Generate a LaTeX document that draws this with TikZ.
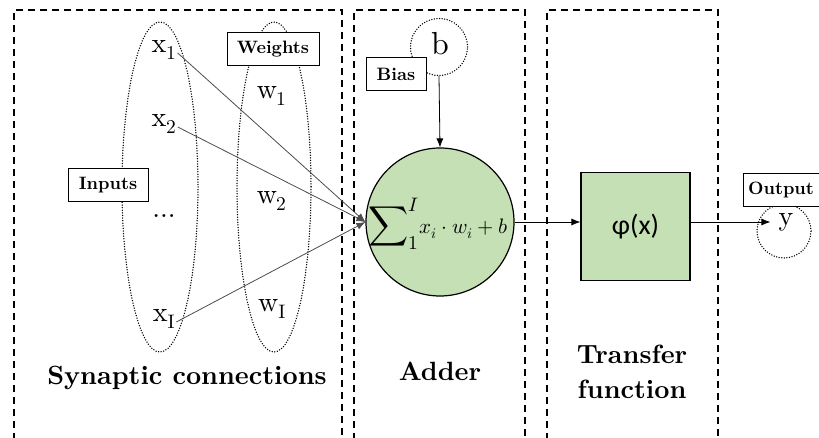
\documentclass[tikz,border=0pt]{standalone}
\usepackage{fontspec}
\usepackage{unicode-math}
\setmainfont{lmroman10-regular.otf}[BoldFont=lmroman10-bold.otf, ItalicFont=lmroman10-italic.otf]
\setmathfont{Latin Modern Math}
\newfontfamily\phifont{Carlito}
\usetikzlibrary{arrows.meta,positioning}
\definecolor{adderGreen}{RGB}{197,224,180}

\begin{document}
\begin{tikzpicture}[x=1bp,y=-1bp,
	block/.style={dash pattern=on 7bp off 5bp, line width=1.2bp},
	dotring/.style={line width=1.5bp, line cap=round, dash pattern=on 0bp off 2.6bp},
	tag/.style={draw, fill=white, line width=0.8bp, minimum height=33bp, inner sep=2bp, font=\fontsize{18}{21}\selectfont\bfseries},
	sym/.style={inner sep=1bp, font=\fontsize{28}{32}\selectfont},
	title/.style={align=center, font=\fontsize{26.5}{35}\selectfont\bfseries},
	link/.style={-{Latex[length=9bp,width=7bp]}, line width=0.8bp},
	]
	\useasboundingbox (0,0) rectangle (819,438);
	
	% three stages, open at the bottom
	\draw[block] (14,440) -- (14,10) -- (342,10) -- (342,440);
	\draw[block] (354,440) -- (354,10) -- (525,10) -- (525,440);
	\draw[block] (547,440) -- (547,10) -- (718,10) -- (718,440);
	
	% inputs and weights
	\draw[dotring] (160,187) ellipse [x radius=38, y radius=165];
	\draw[dotring] (274,187) ellipse [x radius=37, y radius=165];
	
	\node[sym] (x1) at (164,50) {x$_1$};
	\node[sym] (x2) at (164,124) {x$_2$};
	\node[sym] (xdots) at (164,216) {...};
	\node[sym] (xI) at (164,319) {x$_{\mathrm{I}}$};
	
	\node[sym] (w1) at (272,96) {w$_1$};
	\node[sym] (w2) at (272,201) {w$_2$};
	\node[sym] (wI) at (272,309) {w$_{\mathrm{I}}$};
	
	% adder
	\node[circle, draw, fill=adderGreen, line width=1.2bp, minimum size=148bp, inner sep=0pt] (adder) at (440,222) {};
	\node[inner sep=0pt] (sumtext) at (438,224)
		{{\fontsize{28}{32}\selectfont$\displaystyle\sum\nolimits_1^I$}{\fontsize{21}{25}\selectfont$x_i\cdot w_i+b$}};
	\node[circle, dotring, draw, minimum size=57bp] (bring) at (439,47) {};
	\node[sym, font=\fontsize{32}{36}\selectfont] (blab) at (440,44) {b};
	
	% transfer function and output
	\node[draw, fill=adderGreen, line width=1.2bp, minimum width=109bp, minimum height=108bp] (phi) at (635.5,226.5)
		{\phifont\fontsize{28}{32}\selectfont φ(x)};
	\node[circle, dotring, draw, minimum size=54bp] (yring) at (784,231) {};
	\node[sym, inner xsep=8bp] (ylab) at (786,222) {y};
	
	% connectors
	\foreach \src in {x1,x2,xI}
		\draw[link, draw=black!70] ([yshift=-3bp]\src.east) -- (adder.west);
	\draw[link] (bring.south) -- (adder.north);
	\draw[link] (adder.east) -- (adder.east -| phi.west);
	\draw[link] (adder.east -| phi.east) -- (ylab.west);
	
	% labels
	\node[tag, minimum width=80bp] (inputs) at (108,185) {Inputs};
	\node[tag, minimum width=92bp] (weights) at (273,49) {Weights};
	\node[tag, minimum width=60bp] (bias) at (396,74) {Bias};
	\node[tag, minimum width=76bp] (output) at (781,190) {Output};
	
	\node[title] (syn) at (187,378) {Synaptic connections};
	\node[title] (add) at (440,371) {Adder};
	\node[title] (trans) at (632,372) {Transfer\\function};
	
\end{tikzpicture}
\end{document}
